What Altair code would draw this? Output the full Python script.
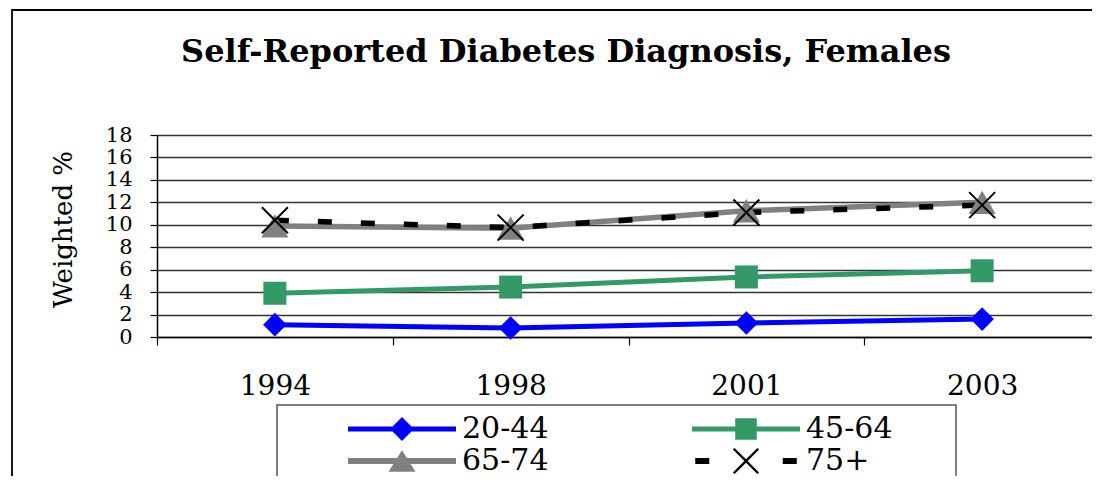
import math
import altair as alt
import pandas as pd

# ---- data ----
years = ["1994", "1998", "2001", "2003"]
series = ["20-44", "45-64", "65-74", "75+"]
v_20_44 = [1.1, 0.8, 1.25, 1.6]
v_45_64 = [3.9, 4.45, 5.35, 5.9]
v_65_74 = [9.9, 9.7, 11.25, 12.0]
v_75p = [10.4, 9.75, 11.1, 11.75]
y_ticks = [0, 2, 4, 6, 8, 10, 12, 14, 16, 18]
title_text = "Self-Reported Diabetes Diagnosis, Females"

colors = ["#0000FF", "#339966", "#808080", "#000000"]

rows = []
for s, vals in zip(series, [v_20_44, v_45_64, v_65_74, v_75p]):
    for yr, v in zip(years, vals):
        rows.append({"year": yr, "series": s, "value": v})
df = pd.DataFrame(rows)

FONT = "DejaVu Serif"
W = 935


# ---- legend symbol paths (line + marker), unit square coordinates ----
def f(v):
    return f"{v:.3f}"


def rect(x0, x1, h):
    return f"M{f(x0)},{f(-h)}H{f(x1)}V{f(h)}H{f(x0)}Z"


def xcross(a, w):
    pts = [(-w, -a), (w, -a), (w, -w), (a, -w), (a, w), (w, w), (w, a), (-w, a),
           (-w, w), (-a, w), (-a, -w), (-w, -w)]
    c = 1 / math.sqrt(2)
    rp = [((x - y) * c, (x + y) * c) for x, y in pts]
    return "M" + "L".join(f"{f(x)},{f(y)}" for x, y in rp) + "Z"


sym_20_44 = rect(-1, 1, 0.048) + " M-0.222,0L0,-0.222L0.222,0L0,0.222Z"
sym_45_64 = rect(-1, 1, 0.048) + " M-0.2,-0.2H0.2V0.2H-0.2Z"
sym_65_74 = rect(-1, 1, 0.055) + " M0,-0.2L0.25,0.2H-0.25Z"
sym_75p = rect(-0.94, -0.68, 0.055) + " " + rect(0.68, 0.94, 0.055) + " " + xcross(0.32, 0.022)
legend_paths = [sym_20_44, sym_45_64, sym_65_74, sym_75p]

x_enc = alt.X(
    "year:N",
    sort=years,
    bandPosition=0.5,
    scale=alt.Scale(type="band", domain=years, paddingInner=0, paddingOuter=0, range=[0, 943]),
    axis=alt.Axis(
        title=None, labelAngle=0, labelFont=FONT, labelFontSize=28, labelColor="#000",
        tickBand="extent", tickSize=8, tickColor="#000", tickWidth=1.2,
        domainColor="#000", domainWidth=1.5, grid=False, labelPadding=27,
    ),
)
y_enc = alt.Y(
    "value:Q",
    scale=alt.Scale(domain=[0, 18], nice=False, zero=True),
    axis=alt.Axis(
        values=y_ticks, grid=True, gridColor="#333", gridWidth=1.4,
        domainColor="#000", domainWidth=1.5, tickColor="#000", tickSize=7, tickWidth=1.2,
        labelFont=FONT, labelFontSize=21, labelColor="#000", labelPadding=18,
        labelOverlap=False, labelFlush=False,
        title="Weighted %", titleFont=FONT, titleFontSize=26, titleFontWeight="normal",
        titleColor="#000", titleX=-94, titleY=94, titleAngle=270,
        titleAlign="center", titleBaseline="middle",
    ),
)


def line_layer(s, color, width, dash=None):
    kw = dict(color=color, strokeWidth=width)
    if dash:
        kw["strokeDash"] = dash
    return alt.Chart(df).transform_filter(alt.datum.series == s).mark_line(**kw).encode(
        x=x_enc, y=y_enc
    )


def point_layer(s, shape, size, filled=True, color="#000", sw=0):
    kw = dict(shape=shape, size=size, filled=filled, opacity=1, color=color)
    if not filled:
        kw["strokeWidth"] = sw
    return alt.Chart(df).transform_filter(alt.datum.series == s).mark_point(**kw).encode(
        x=x_enc, y=y_enc
    )


l1 = line_layer("20-44", colors[0], 5)
l2 = line_layer("45-64", colors[1], 5)
l3 = line_layer("65-74", colors[2], 5.5)
l4 = line_layer("75+", colors[3], 5.5, dash=[14, 29])

p1 = point_layer("20-44", "diamond", 560, color=colors[0])
p2 = point_layer("45-64", "square", 530, color=colors[1])
p3 = point_layer("65-74", "triangle-up", 729, color=colors[2])
p4 = point_layer("75+", "M-1,-1L1,1M-1,1L1,-1", 676, filled=False, color=colors[3], sw=2)

leg = alt.Legend(
    title=None, orient="none", direction="horizontal", legendX=191, legendY=278,
    columns=2, columnPadding=143, rowPadding=0, clipHeight=32,
    labelFont=FONT, labelFontSize=30, labelColor="#000", labelOffset=6,
    symbolSize=11664, symbolStrokeWidth=0, symbolOpacity=1, labelLimit=400,
)
legend_layer = alt.Chart(df).transform_filter("false").mark_point(filled=True, opacity=1).encode(
    fill=alt.Fill("series:N", scale=alt.Scale(domain=series, range=colors), legend=leg),
    shape=alt.Shape("series:N", scale=alt.Scale(domain=series, range=legend_paths), legend=leg),
)

one = pd.DataFrame({"k": [0]})
legend_box = alt.Chart(one).mark_rect(fill="transparent", stroke="#555", strokeWidth=1.5).encode(
    x=alt.value(120), x2=alt.value(799), y=alt.value(270), y2=alt.value(420)
)
# outer chart frame (right and bottom edges fall outside the visible page)
frame = alt.Chart(one).mark_rect(fill="transparent", stroke="#000", strokeWidth=1.8).encode(
    x=alt.value(-145), x2=alt.value(W + 30), y=alt.value(-125), y2=alt.value(430)
)

chart = alt.layer(
    frame, legend_box,
    l1, l2, l3, l4, p1, p2, p3, p4, legend_layer,
).properties(
    width=W, height=202,
    title=alt.Title(
        title_text, font=FONT, fontSize=32,
        fontWeight="bold", color="#000", anchor="middle", frame="group",
        baseline="alphabetic", dx=566 - (157 + W / 2), dy=85, offset=0,
    ),
    autosize=alt.AutoSizeParams(type="none"),
    padding={"left": 149, "top": 127, "right": 0, "bottom": 139},
).configure_view(strokeOpacity=0).configure(background="white")

chart.save("out.html", embed_options={"renderer": "svg", "actions": False})
